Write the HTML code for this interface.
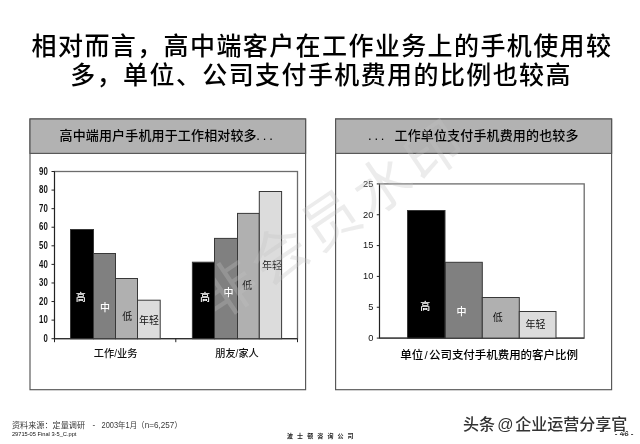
<!DOCTYPE html>
<html lang="zh">
<head>
<meta charset="utf-8">
<title>相对而言，高中端客户在工作业务上的手机使用较多</title>
<style>
html,body{margin:0;padding:0;background:#fff;}
body{width:640px;height:444px;overflow:hidden;}
svg{display:block;will-change:transform;}
text{font-family:"Liberation Sans","Noto Sans CJK SC",sans-serif;fill:#111;}
.t{font-size:25px;fill:#000;letter-spacing:1.4px;font-weight:500;}
.h{font-size:13px;fill:#000;letter-spacing:0.15px;font-weight:500;}
.axb{font-size:10.3px;font-weight:bold;fill:#111;}
.axr{font-size:9.3px;fill:#111;}
.cat{font-size:10.2px;fill:#111;font-weight:500;}
.cat2{font-size:11.5px;fill:#000;font-weight:500;}
.bl{font-size:10px;}
.w{fill:#fff;font-weight:500;}
.src{font-size:8.15px;fill:#3a3a3a;}
.tiny{font-size:5.7px;fill:#333;}
.bcg{font-size:6px;font-weight:bold;fill:#222;letter-spacing:4.1px;}
.wm{font-size:16px;font-weight:500;fill:#333;stroke:#fff;stroke-width:2.2px;paint-order:stroke fill;stroke-linejoin:round;}
.bigwm{font-size:57px;font-weight:400;fill:rgba(193,193,193,0.31);letter-spacing:5px;}
</style>
</head>
<body>
<svg width="640" height="444" viewBox="0 0 640 444">
<rect width="640" height="444" fill="#fff"/>

<!-- title -->
<text class="t" x="31.6" y="55.4">相对而言，高中端客户在工作业务上的手机使用较</text>
<text class="t" x="70.3" y="84.3">多，单位、公司支付手机费用的比例也较高</text>

<!-- left panel -->
<rect x="30" y="119" width="275.6" height="270.7" fill="#fff" stroke="#555" stroke-width="1.15"/>
<rect x="30" y="119" width="275.6" height="34.4" fill="#b2b2b2" stroke="#555" stroke-width="1.15"/>
<text class="h" x="59.5" y="140.3">高中端用户手机用于工作相对较多</text>
<text class="h" x="256.2 262.7 269.2" y="139.7">...</text>

<!-- left plot -->
<rect x="54.5" y="171.5" width="243" height="167.2" fill="#fff" stroke="#6c6c6c" stroke-width="1.3"/>
<g stroke="#222" stroke-width="1">
<line x1="54.5" y1="171.5" x2="54.5" y2="338.7"/>
<line x1="51.5" y1="338.7" x2="297.5" y2="338.7"/>
<line x1="51.5" y1="171.50" x2="54.5" y2="171.50"/>
<line x1="51.5" y1="190.08" x2="54.5" y2="190.08"/>
<line x1="51.5" y1="208.66" x2="54.5" y2="208.66"/>
<line x1="51.5" y1="227.23" x2="54.5" y2="227.23"/>
<line x1="51.5" y1="245.81" x2="54.5" y2="245.81"/>
<line x1="51.5" y1="264.39" x2="54.5" y2="264.39"/>
<line x1="51.5" y1="282.97" x2="54.5" y2="282.97"/>
<line x1="51.5" y1="301.54" x2="54.5" y2="301.54"/>
<line x1="51.5" y1="320.12" x2="54.5" y2="320.12"/>
<line x1="54.5" y1="338.7" x2="54.5" y2="342.2"/>
<line x1="175.8" y1="338.7" x2="175.8" y2="342.2"/>
<line x1="297.5" y1="338.7" x2="297.5" y2="342.2"/>
</g>
<g class="axb" text-anchor="end">
<text x="47.8" y="174.70" textLength="8.7" lengthAdjust="spacingAndGlyphs">90</text>
<text x="47.8" y="193.28" textLength="8.7" lengthAdjust="spacingAndGlyphs">80</text>
<text x="47.8" y="211.86" textLength="8.7" lengthAdjust="spacingAndGlyphs">70</text>
<text x="47.8" y="230.43" textLength="8.7" lengthAdjust="spacingAndGlyphs">60</text>
<text x="47.8" y="249.01" textLength="8.7" lengthAdjust="spacingAndGlyphs">50</text>
<text x="47.8" y="267.59" textLength="8.7" lengthAdjust="spacingAndGlyphs">40</text>
<text x="47.8" y="286.17" textLength="8.7" lengthAdjust="spacingAndGlyphs">30</text>
<text x="47.8" y="304.74" textLength="8.7" lengthAdjust="spacingAndGlyphs">20</text>
<text x="47.8" y="323.32" textLength="8.7" lengthAdjust="spacingAndGlyphs">10</text>
<text x="47.8" y="341.90" textLength="4.3" lengthAdjust="spacingAndGlyphs">0</text>
</g>
<g stroke="#383838" stroke-width="1">
<rect x="93.5" y="253.5" width="22" height="85.19999999999999" fill="#808080"/>
<rect x="115.5" y="278.5" width="22" height="60.19999999999999" fill="#b0b0b0"/>
<rect x="137.5" y="300.2" width="22.7" height="38.5" fill="#dcdcdc"/>
<rect x="214.5" y="238.4" width="23" height="100.29999999999998" fill="#808080"/>
<rect x="237.5" y="213.4" width="21.8" height="125.29999999999998" fill="#b0b0b0"/>
<rect x="259.3" y="191.5" width="22.3" height="147.2" fill="#dcdcdc"/>
</g>
<g class="bl" text-anchor="middle">
<text class="w" x="104.9" y="311.1">中</text>
<text x="127.2" y="320.1">低</text>
<text x="149" y="323.8">年轻</text>
<text class="w" x="228.6" y="296.2">中</text>
<text x="247.2" y="288.6">低</text>
<text x="271.9" y="269.4">年轻</text>
</g>
<text class="cat" x="115.6" y="356.5" text-anchor="middle">工作/业务</text>
<text class="cat" x="237" y="356.5" text-anchor="middle">朋友/家人</text>

<!-- right panel -->
<rect x="335.6" y="119" width="276" height="270.7" fill="#fff" stroke="#555" stroke-width="1.15"/>
<rect x="335.6" y="119" width="276" height="34.4" fill="#b2b2b2" stroke="#555" stroke-width="1.15"/>
<text class="h" x="368 374.4 380.8" y="139.6">...</text>
<text class="h" x="394.5" y="139.8">工作单位支付手机费用的也较多</text>

<rect x="379.5" y="183.9" width="204.7" height="154.20000000000002" fill="#fff" stroke="#6c6c6c" stroke-width="1.3"/>
<g stroke="#222" stroke-width="1">
<line x1="379.5" y1="183.9" x2="379.5" y2="338.1"/>
<line x1="376.8" y1="338.1" x2="584.2" y2="338.1"/>
<line x1="376.8" y1="183.90" x2="379.5" y2="183.90"/>
<line x1="376.8" y1="214.74" x2="379.5" y2="214.74"/>
<line x1="376.8" y1="245.58" x2="379.5" y2="245.58"/>
<line x1="376.8" y1="276.42" x2="379.5" y2="276.42"/>
<line x1="376.8" y1="307.26" x2="379.5" y2="307.26"/>
</g>
<g class="axr" text-anchor="end">
<text x="373.4" y="186.80">25</text>
<text x="373.4" y="217.64">20</text>
<text x="373.4" y="248.48">15</text>
<text x="373.4" y="279.32">10</text>
<text x="373.4" y="310.16">5</text>
<text x="373.4" y="341.00">0</text>
</g>
<g stroke="#383838" stroke-width="1">
<rect x="445.3" y="262.3" width="37" height="75.80000000000001" fill="#808080"/>
<rect x="482.3" y="297.5" width="37" height="40.60000000000002" fill="#b0b0b0"/>
<rect x="519.3" y="311.5" width="36.7" height="26.600000000000023" fill="#dcdcdc"/>
</g>
<g class="bl" text-anchor="middle">
<text class="w" x="461.6" y="315.2">中</text>
<text x="497.75" y="320.8">低</text>
<text x="535.6" y="328.3">年轻</text>
</g>
<text class="cat2" x="400.20 411.65 424.40 429.00 440.45 451.90 463.35 474.80 486.25 497.70 509.15 520.60 532.05 543.50 554.95 566.40" y="358.8">单位/公司支付手机费用的客户比例</text>

<!-- big diagonal watermark -->
<text class="bigwm" transform="translate(333,219) rotate(-34)" text-anchor="middle" y="20">非会员水印</text>

<!-- black bars above watermark -->
<g stroke="#383838" stroke-width="1">
<rect x="70.5" y="229.5" width="23" height="109.19999999999999" fill="#000"/>
<rect x="192.4" y="262.2" width="22.1" height="76.5" fill="#000"/>
<rect x="407.5" y="210.5" width="37.5" height="127.60000000000002" fill="#000"/>
</g>
<g class="bl" text-anchor="middle">
<text class="w" x="80.8" y="300.9">高</text>
<text class="w" x="205" y="300.7">高</text>
<text class="w" x="425.25" y="310.2">高</text>
</g>
<!-- footer -->
<text class="src" x="11.9" y="428.2">资料来源：定量调研</text>
<text class="src" x="92.5" y="428.2">-</text>
<text class="src" x="101.5" y="428.2" textLength="35.6" lengthAdjust="spacingAndGlyphs">2003年1月</text>
<text class="src" x="136.5" y="428.2">（n=6,257）</text>
<text class="tiny" x="11.9" y="435.6" style="fill:#111">29715-05 Final 3-5_C.ppt</text>
<text class="bcg" x="287" y="437.8">波士顿咨询公司</text>
<text class="tiny" x="614.8" y="436" style="font-weight:bold;font-size:8px">- 46 -</text>
<text class="wm" x="463 479 492.8 497.2 515.2" y="429.5">头条 @企业运营分享官</text>
</svg>
</body>
</html>
